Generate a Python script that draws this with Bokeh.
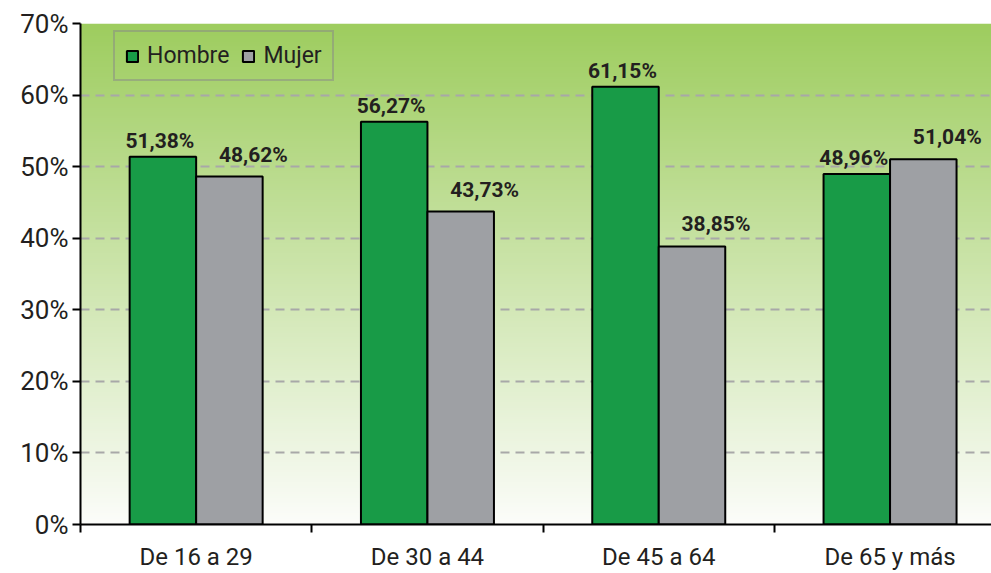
import numpy as np
from bokeh.plotting import figure
from bokeh.models import Range1d, FixedTicker, PrintfTickFormatter, ColumnDataSource, Legend, LegendItem
from bokeh.core.properties import value
from bokeh.embed import file_html
from bokeh.resources import INLINE

categories = ["De 16 a 29", "De 30 a 44", "De 45 a 64", "De 65 y más"]
hombre = [51.38, 56.27, 61.15, 48.96]
mujer = [48.62, 43.73, 38.85, 51.04]
y_ticks = [0, 10, 20, 30, 40, 50, 60, 70]

GREEN = "#189B47"
GRAY = "#9EA0A4"
FONT = "Roboto"

x_end = 911 / 231.3
p = figure(width=991, height=573, output_backend="svg", toolbar_location=None,
           x_range=Range1d(0, x_end), y_range=Range1d(0, 70),
           min_border_left=80, min_border_right=0, min_border_top=23, min_border_bottom=47)
p.outline_line_color = None
p.background_fill_color = "white"
p.border_fill_color = "white"

# gradient background
n = 256
t = np.linspace(0, 1, n)[:, None]  # 0 bottom -> 1 top
top = np.array([158, 205, 95])
bot = np.array([252, 253, 250])
cols = (bot + (top - bot) * t).astype(np.uint32)
img = np.empty((n, 1), dtype=np.uint32)
view = img.view(dtype=np.uint8).reshape((n, 1, 4))
view[:, :, 0] = cols[:, 0:1]
view[:, :, 1] = cols[:, 1:2]
view[:, :, 2] = cols[:, 2:3]
view[:, :, 3] = 255
bg = p.image_rgba(image=[img], x=0, y=0, dw=x_end, dh=70)
bg.level = "image"

xc = np.arange(len(categories)) + 0.5
bw = 0.2875
src = ColumnDataSource(dict(
    xh=xc - bw / 2, xm=xc + bw / 2, h=hombre, m=mujer,
    lh=[f"{v:.2f}%".replace(".", ",") for v in hombre],
    lm=[f"{v:.2f}%".replace(".", ",") for v in mujer],
))
rh = p.vbar(x="xh", top="h", width=bw, bottom=0, source=src, fill_color=GREEN, line_color="black", line_width=2)
rm = p.vbar(x="xm", top="m", width=bw, bottom=0, source=src, fill_color=GRAY, line_color="black", line_width=2)

p.text(x="xh", y="h", text="lh", source=src, text_font=value(FONT), text_font_style="bold",
       text_font_size="21px", text_color="#231F20", text_align="center", text_baseline="alphabetic",
       x_offset=-3, y_offset=-16)
p.text(x="xm", y="m", text="lm", source=src, text_font=value(FONT), text_font_style="bold",
       text_font_size="21px", text_color="#231F20", text_align="center", text_baseline="alphabetic",
       x_offset=24, y_offset=-22)

# grid
p.xgrid.visible = False
p.ygrid.ticker = FixedTicker(ticks=y_ticks)
p.ygrid.grid_line_color = "#A8A8A8"
p.ygrid.grid_line_width = 2
p.ygrid.grid_line_dash = "9 6"

# y axis
ya = p.yaxis[0]
ya.ticker = FixedTicker(ticks=y_ticks)
ya.formatter = PrintfTickFormatter(format="%d%%")
ya.axis_line_color = "black"
ya.axis_line_width = 2
ya.major_tick_line_width = 2
ya.major_tick_out = 8
ya.major_tick_in = 0
ya.minor_tick_line_color = None
ya.major_label_text_font = FONT
ya.major_label_text_font_size = "26px"
ya.major_label_text_color = "#231F20"
ya.major_label_standoff = 4

# x axis
xa = p.xaxis[0]
xa.ticker = FixedTicker(ticks=list(xc), minor_ticks=[0, 1, 2, 3])
xa.major_label_overrides = {float(x): c for x, c in zip(xc, categories)}
xa.axis_line_color = "black"
xa.axis_line_width = 2
xa.major_tick_line_color = None
xa.major_tick_out = 0
xa.major_tick_in = 0
xa.minor_tick_line_color = "black"
xa.minor_tick_line_width = 2
xa.minor_tick_out = 8
xa.minor_tick_in = 0
xa.major_label_text_font = FONT
xa.major_label_text_font_size = "24px"
xa.major_label_text_color = "#231F20"
xa.major_label_standoff = 10

legend = Legend(items=[LegendItem(label="Hombre", renderers=[rh]), LegendItem(label="Mujer", renderers=[rm])],
                orientation="horizontal", location=(33, 443),
                label_text_font=FONT, label_text_font_size="23px", label_text_color="#231F20",
                glyph_width=14, glyph_height=14, label_standoff=8, spacing=12, padding=10, margin=0,
                background_fill_alpha=0, border_line_color="#888888", border_line_width=2)
p.add_layout(legend)

open("out.html", "w").write(file_html(p, INLINE))
